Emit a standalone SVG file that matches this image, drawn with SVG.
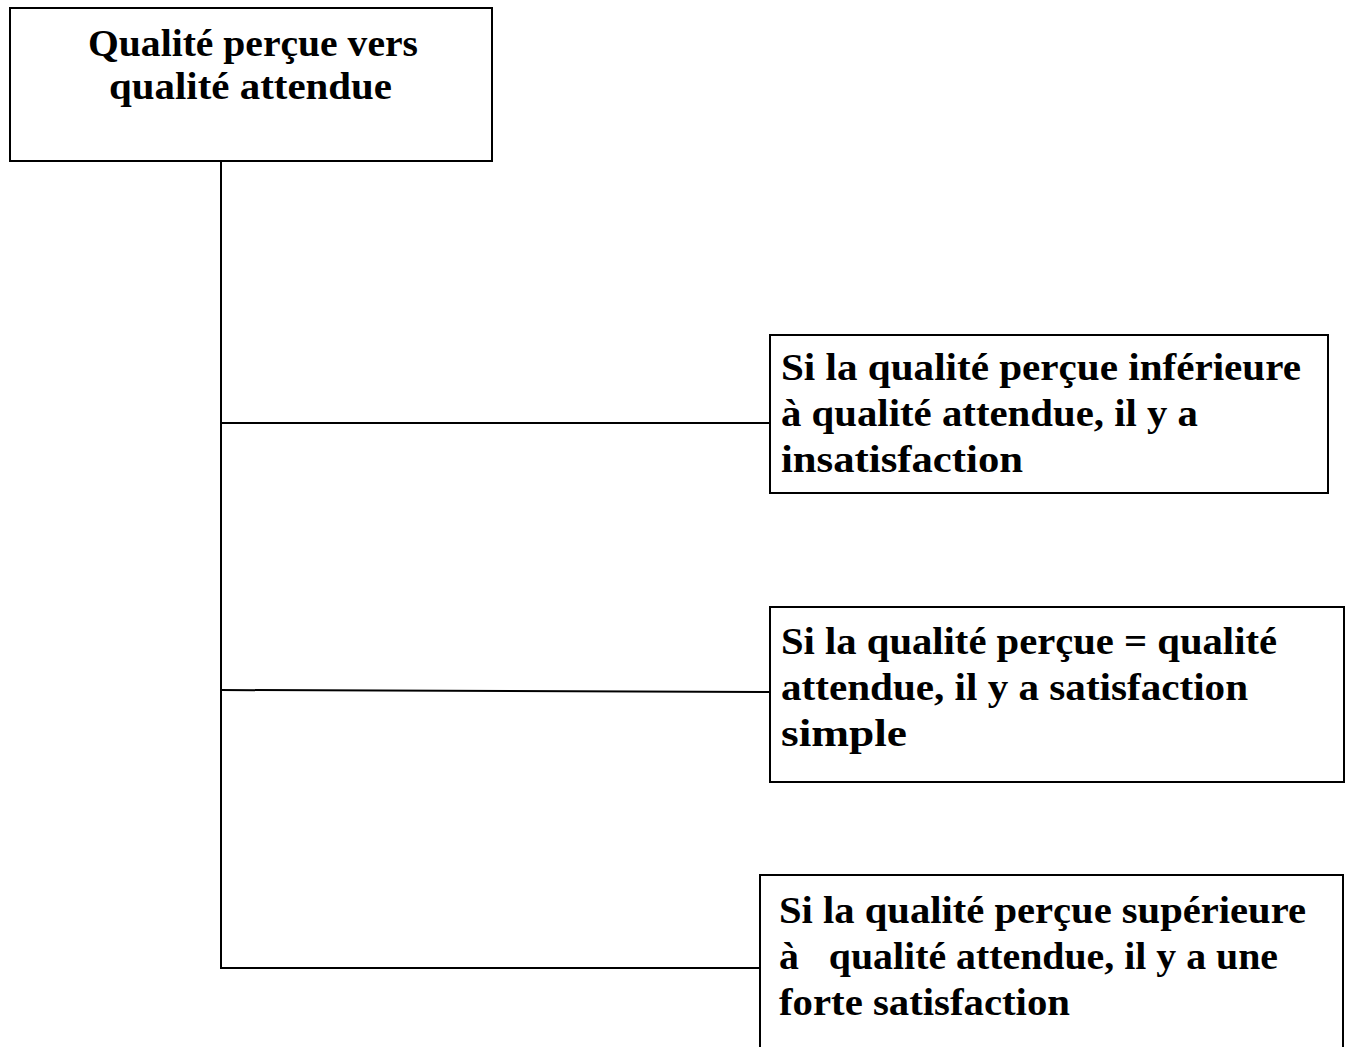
<svg xmlns="http://www.w3.org/2000/svg" width="1349" height="1047" viewBox="0 0 1349 1047">
<style>
.box{fill:#fff;stroke:#000;stroke-width:2}
.t{font-family:"Liberation Serif","Times New Roman",serif;font-weight:bold;font-size:38px;fill:#000}
.c{stroke:#000;stroke-width:2;fill:none}
</style>
<rect width="1349" height="1047" fill="#fff"/>
<g id="connectors">
<line class="c" x1="221" y1="161" x2="221" y2="968"/>
<line class="c" x1="220" y1="423" x2="770" y2="423"/>
<line class="c" x1="220" y1="690" x2="770" y2="692"/>
<line class="c" x1="220" y1="968" x2="760" y2="968"/>
</g>
<g id="node-top">
<rect class="box" x="10" y="8" width="482" height="153"/>
<text class="t" x="88" y="56" textLength="330" lengthAdjust="spacingAndGlyphs">Qualité perçue vers</text>
<text class="t" x="109" y="99" textLength="283" lengthAdjust="spacingAndGlyphs">qualité attendue</text>
</g>
<g id="node-1">
<rect class="box" x="770" y="335" width="558" height="158"/>
<text class="t" x="781" y="380" textLength="520" lengthAdjust="spacingAndGlyphs">Si la qualité perçue inférieure</text>
<text class="t" x="781" y="426" textLength="417" lengthAdjust="spacingAndGlyphs">à qualité attendue, il y a</text>
<text class="t" x="781" y="472" textLength="242" lengthAdjust="spacingAndGlyphs">insatisfaction</text>
</g>
<g id="node-2">
<rect class="box" x="770" y="607" width="574" height="175"/>
<text class="t" x="781" y="654" textLength="496" lengthAdjust="spacingAndGlyphs">Si la qualité perçue = qualité</text>
<text class="t" x="781" y="700" textLength="467" lengthAdjust="spacingAndGlyphs">attendue, il y a satisfaction</text>
<text class="t" x="781" y="746" textLength="126" lengthAdjust="spacingAndGlyphs">simple</text>
</g>
<g id="node-3">
<rect class="box" x="760" y="875" width="583" height="180"/>
<text class="t" x="779" y="923" textLength="527" lengthAdjust="spacingAndGlyphs">Si la qualité perçue supérieure</text>
<text class="t" x="779" y="969" textLength="499" lengthAdjust="spacingAndGlyphs" xml:space="preserve">à   qualité attendue, il y a une</text>
<text class="t" x="779" y="1015" textLength="291" lengthAdjust="spacingAndGlyphs">forte satisfaction</text>
</g>
</svg>
